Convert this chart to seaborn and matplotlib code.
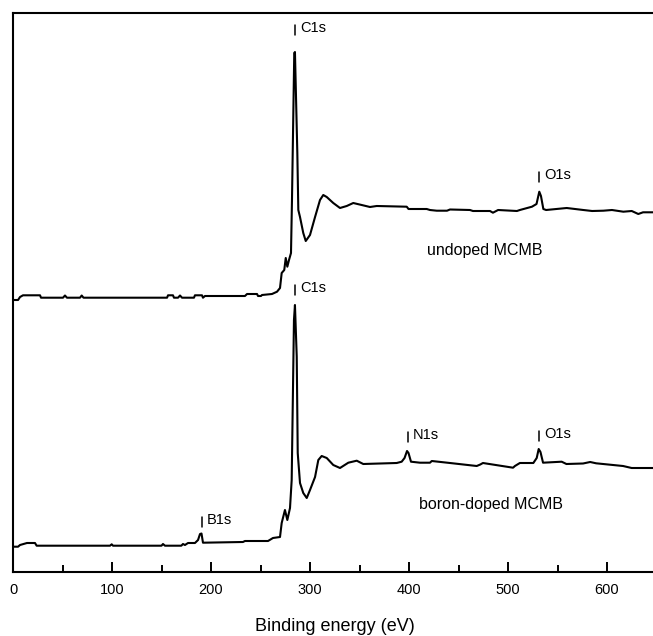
import numpy as np
import pandas as pd
import matplotlib
matplotlib.use("Agg")
import matplotlib.pyplot as plt
import seaborn as sns
from matplotlib.ticker import MultipleLocator

# ---------------- data (binding energy in eV, intensity in a.u.) ----------------
undoped_ev = [0.0, 5.1, 7.1, 10.1, 27.3, 28.3, 50.5, 52.5, 54.5, 67.7, 69.4, 71.2,
              155.6, 156.6, 161.6, 162.6, 166.7, 168.7, 170.7, 182.8, 183.8, 190.9,
              191.9, 193.9, 234.3, 236.4, 246.5, 247.5, 250.5, 251.5, 261.6, 266.7,
              269.7, 271.4, 274.0, 275.5, 277.1, 278.8, 280.8, 281.8, 284.1, 284.8,
              287.2, 288.2, 289.9, 293.2, 295.7, 300.0, 305.1, 310.1, 313.4, 316.9,
              323.5, 330.3, 337.1, 343.7, 352.2, 360.6, 367.4, 397.7, 399.5, 417.9,
              421.2, 428.0, 438.4, 441.4, 461.6, 464.6, 481.8, 484.8, 490.0, 509.0,
              512.0, 524.2, 528.8, 531.6, 533.3, 535.7, 538.5, 559.3, 576.1, 585.0,
              596.3, 605.0, 616.5, 625.0, 631.6, 636.4, 646.5]
undoped_int = [272, 272, 275, 276.7, 276.7, 274.3, 274.3, 276.5, 274.3, 274.3, 276.5, 274.3,
               274.3, 276.7, 276.7, 274.3, 274.3, 276.5, 274.3, 274.3, 276.7, 276.7,
               274.3, 276, 276, 278, 278, 276, 276, 277, 278, 280.3,
               284, 299, 302, 314, 305.3, 312, 319, 372, 519, 520,
               419, 362, 355, 339, 331, 337, 355, 372, 377, 375,
               369, 364, 366, 369, 367, 365, 366, 365.3, 363, 363,
               362, 361.3, 361.3, 362.5, 362, 361, 361, 359.3, 362, 361,
               362, 365.3, 368, 380.3, 376, 363, 362, 364, 362, 361,
               361.3, 362, 360.3, 361, 358, 359.7, 359.7]

doped_ev = [0.0, 5.1, 7.1, 14.1, 22.2, 23.9, 98.0, 99.7, 101.0, 150.0, 151.5, 153.5,
            170.0, 171.7, 173.7, 176.8, 183.8, 186.9, 188.9, 190.4, 191.9, 232.3,
            234.3, 257.6, 262.6, 269.7, 271.4, 274.7, 277.1, 279.8, 281.5, 283.8,
            284.8, 286.6, 287.6, 289.9, 293.2, 296.7, 300.0, 305.1, 308.4, 311.8,
            316.9, 323.5, 330.3, 338.7, 347.2, 353.8, 387.6, 392.6, 395.5, 398.0,
            399.5, 402.0, 411.1, 421.2, 423.0, 441.4, 468.4, 472.0, 474.7, 505.1,
            507.0, 512.0, 525.6, 529.0, 531.0, 532.8, 535.4, 554.2, 559.0, 575.8,
            583.0, 589.0, 616.2, 624.9, 646.5]
doped_int = [25.3, 25.3, 27, 29, 29, 26.3, 26.3, 27.7, 26.3, 26.3, 28, 26.3,
             26.3, 28, 27, 29, 29, 32, 38, 38.5, 29.3, 30,
             31, 31, 34, 35, 49, 62, 52, 64, 92, 252,
             267, 215.3, 119, 89, 79, 74, 82, 95, 112, 116,
             114, 107, 104, 109.3, 111.3, 108, 109, 110.3, 114, 121,
             119, 110.3, 109.3, 109.3, 111, 109, 106, 107.5, 109, 104.3,
             106, 109, 109, 114, 123, 120, 109.3, 110.3, 108, 108.5,
             110, 108.7, 106, 104, 104]

# peak labels: (label, energy, curve)
peak_labels = ["C1s", "O1s", "C1s", "B1s", "N1s", "O1s"]
peak_ev = [284.8, 531.6, 284.8, 190.6, 398.7, 531.3]
peak_curve = ["undoped", "undoped", "doped", "doped", "doped", "doped"]

series_names = ["undoped MCMB", "boron-doped MCMB"]
x_ticks = [0, 100, 200, 300, 400, 500, 600]
x_label = "Binding energy (eV)"

# ---------------- plotting ----------------
sns.set_style("ticks")
plt.rcParams["font.family"] = ["Liberation Sans", "DejaVu Sans"]
plt.rcParams["text.color"] = "black"
plt.rcParams["axes.labelcolor"] = "black"
plt.rcParams["xtick.color"] = "black"

df = pd.concat([
    pd.DataFrame({"E": undoped_ev, "I": undoped_int, "s": series_names[0]}),
    pd.DataFrame({"E": doped_ev, "I": doped_int, "s": series_names[1]}),
])

fig = plt.figure(figsize=(6.53, 6.36), dpi=100)
ax = fig.add_axes([13 / 653, 1 - 572 / 636, 643.5 / 653, 559 / 636])

for name in series_names:
    sns.lineplot(data=df[df["s"] == name], x="E", y="I", ax=ax, color="black",
                 linewidth=1.5, estimator=None, sort=False, legend=False)

ax.set_xlim(0, 650)
ax.set_ylim(0, 559)
ax.set_xticks(x_ticks)
ax.xaxis.set_minor_locator(MultipleLocator(50))
ax.set_yticks([])
ax.set_ylabel("")
ax.set_xlabel(x_label, fontsize=13, labelpad=15)
ax.tick_params(axis="x", which="major", direction="in", length=7.5, width=1.4,
               labelsize=10.5, pad=8, top=False)
ax.tick_params(axis="x", which="minor", direction="in", length=4.8, width=1.4, top=False)
for sp in ["left", "top", "bottom", "right"]:
    ax.spines[sp].set_visible(True)
    ax.spines[sp].set_linewidth(1.5)
    ax.spines[sp].set_color("black")

# peak markers and labels
curve_base = {"undoped": (undoped_ev, undoped_int), "doped": (doped_ev, doped_int)}
offsets = {("C1s", "undoped"): 17, ("O1s", "undoped"): 10,
           ("C1s", "doped"): 10, ("B1s", "doped"): 8,
           ("N1s", "doped"): 10, ("O1s", "doped"): 8}
for lab, e, c in zip(peak_labels, peak_ev, peak_curve):
    ev, it = curve_base[c]
    top = np.interp(e, ev, it) + offsets[(lab, c)]
    ax.plot([e, e], [top, top + 10], color="black", linewidth=1.1)
    ax.text(e + 5, top + 7, lab, fontsize=10.5, ha="left", va="center")

ax.text(477, 322, series_names[0], fontsize=11.5, ha="center", va="center")
ax.text(483, 68, series_names[1], fontsize=11.5, ha="center", va="center")

fig.savefig("out.png", dpi=100)
